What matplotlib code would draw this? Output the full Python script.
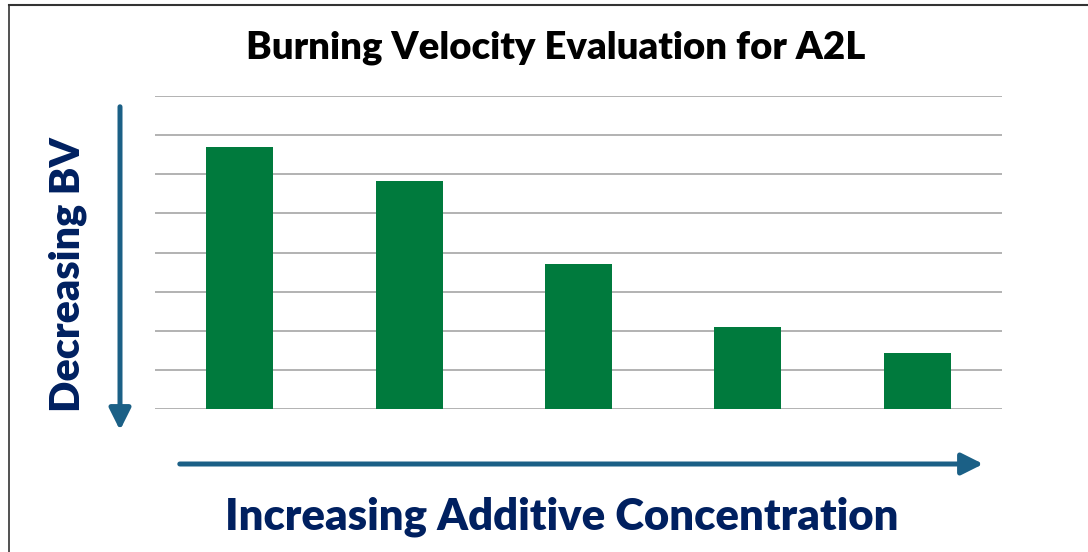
import matplotlib.pyplot as plt
from matplotlib.patches import FancyArrowPatch

# Data (grid units, 8 gridline intervals)
categories = ['C1', 'C2', 'C3', 'C4', 'C5']
burning_velocity = [6.7, 5.83, 3.71, 2.1, 1.43]

bar_color = '#007A3D'
arrow_color = '#1B6086'
text_color = '#002060'

fig = plt.figure(figsize=(10.88, 5.52), dpi=100)
W, H = 1088, 552

ax = fig.add_axes([155 / W, 1 - 409 / H, (1002 - 155) / W, (409 - 96) / H])
x = range(len(categories))
ax.bar(x, burning_velocity, width=0.395, color=bar_color, zorder=3)
ax.set_xlim(-0.5, len(categories) - 0.5)
ax.set_ylim(0, 8)
ax.set_yticks(range(0, 9))
ax.yaxis.grid(True, color='#A6A6A6', linewidth=1.2, zorder=0)
ax.tick_params(left=False, bottom=False, labelleft=False, labelbottom=False)
for s in ax.spines.values():
    s.set_visible(False)

# frame (left + top edge only)
fig.add_artist(plt.Line2D([9 / W, 9 / W], [0, 1 - 5 / H], color='#333333', lw=1.2))
fig.add_artist(plt.Line2D([9 / W, 1], [1 - 5 / H, 1 - 5 / H], color='#333333', lw=1.5))

# arrows
style = '-|>,head_length=1.0,head_width=0.5'
va = FancyArrowPatch((120 / W, 1 - 104 / H), (120 / W, 1 - 433 / H),
                     transform=fig.transFigure, arrowstyle=style,
                     mutation_scale=13, color=arrow_color, lw=3.6)
ha = FancyArrowPatch((177 / W, 1 - 464 / H), (986 / W, 1 - 464 / H),
                     transform=fig.transFigure, arrowstyle=style,
                     mutation_scale=13, color=arrow_color, lw=3.6)
fig.add_artist(va)
fig.add_artist(ha)

fig.text(556 / W, 1 - 48 / H, 'Burning Velocity Evaluation for A2L', ha='center', va='center',
         fontsize=27.5, fontweight='heavy', family='Lato', color='black')
fig.text(68 / W, 1 - 275 / H, 'Decreasing BV', ha='center', va='center', rotation=90,
         fontsize=29.8, fontweight='heavy', family='Lato', color=text_color)
fig.text(562 / W, 1 - 517 / H, 'Increasing Additive Concentration', ha='center', va='center',
         fontsize=31.4, fontweight='heavy', family='Lato', color=text_color)

fig.savefig('out.png', dpi=100)
